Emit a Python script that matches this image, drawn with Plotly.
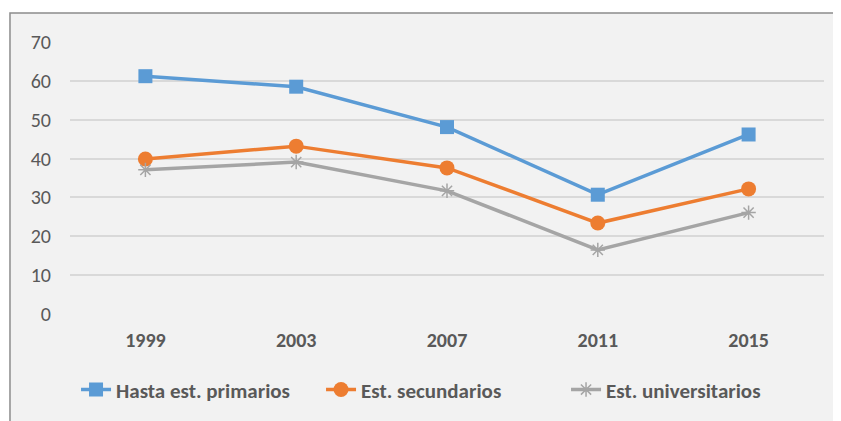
import plotly.graph_objects as go

years = ["1999", "2003", "2007", "2011", "2015"]
primarios = [61.2, 58.5, 48.1, 30.7, 46.2]
secundarios = [39.9, 43.2, 37.6, 23.4, 32.2]
universitarios = [37.1, 39.1, 31.7, 16.5, 26.1]

FONT = "Carlito, Calibri, Lato, sans-serif"
TEXT = "#595959"

fig = go.Figure()

series = [
    ("Hasta est. primarios", primarios, "#5b9bd5", dict(symbol="square", size=14)),
    ("Est. secundarios", secundarios, "#ed7d31", dict(symbol="circle", size=15)),
    ("Est. universitarios", universitarios, "#a5a5a5",
     dict(symbol="asterisk-open", size=12, line=dict(width=1.5, color="#a5a5a5"))),
]

for name, vals, color, marker in series:
    fig.add_trace(go.Scatter(
        x=years,
        y=vals,
        mode="lines+markers",
        name=name,
        line=dict(color=color, width=3.5),
        marker=dict(color=color, **marker),
    ))

# grey chart box with border (cropped on the right and bottom)
fig.add_shape(
    type="rect", xref="paper", yref="paper",
    x0=-0.0796, x1=1.1, y0=-0.45, y1=1.1066,
    fillcolor="#f2f2f2", line=dict(color="#8c8c8c", width=1.5),
    layer="below",
)

fig.update_layout(
    width=841,
    height=421,
    margin=dict(l=62, r=25, t=34, b=115, autoexpand=False),
    paper_bgcolor="white",
    plot_bgcolor="rgba(0,0,0,0)",
    font=dict(family=FONT, color=TEXT, size=20),
    showlegend=True,
    legend=dict(
        orientation="h",
        x=0.008, xanchor="left",
        y=-0.279, yanchor="middle",
        font=dict(size=21, color=TEXT, family=FONT, weight="bold"),
        bgcolor="rgba(0,0,0,0)",
        entrywidth=200,
        entrywidthmode="pixels",
    ),
    xaxis=dict(
        type="category",
        range=[-0.5, 4.5],
        showgrid=False,
        showline=False,
        zeroline=False,
        ticks="",
        ticklabelstandoff=12,
        tickfont=dict(size=20, color=TEXT, family=FONT, weight="bold"),
    ),
    yaxis=dict(
        range=[0, 70],
        dtick=10,
        showgrid=True,
        gridcolor="#d9d9d9",
        gridwidth=1.5,
        zeroline=False,
        showline=False,
        ticks="",
        ticklabelstandoff=18,
        tickfont=dict(size=20, color=TEXT, family=FONT),
    ),
)

fig.write_html("out.html")
